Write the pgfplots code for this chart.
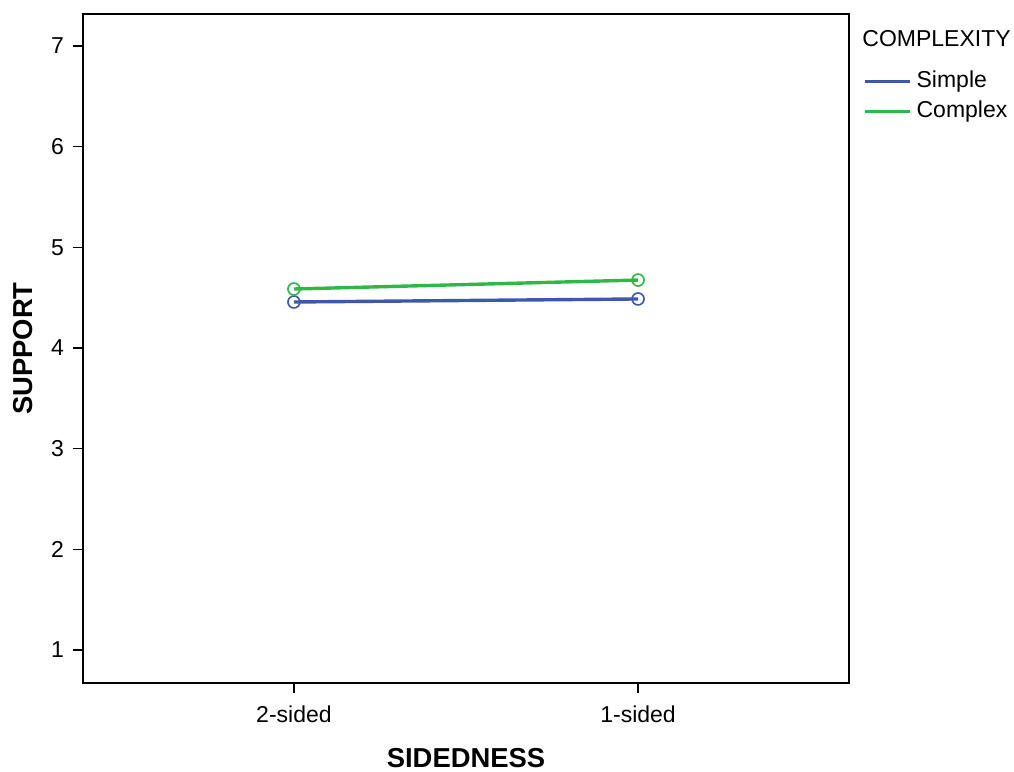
\documentclass[border=0pt]{standalone}
\usepackage{pgfplots}
\pgfplotsset{compat=1.18}
\usepackage{fontspec}
\setmainfont{Liberation Sans}
\definecolor{sblue}{HTML}{3E58AC}
\definecolor{sgreen}{HTML}{2EB848}
\begin{document}
\begin{tikzpicture}
\begin{axis}[
  scale only axis, width=383pt, height=334.5pt,
  xmin=-0.613, xmax=1.613, ymin=0.672, ymax=7.318,
  xtick={0,1}, xticklabels={2-sided,1-sided},
  ytick={1,2,3,4,5,6,7},
  tick align=outside, tick pos=left, major tick length=5pt,
  axis line style={line width=0.8pt},
  tick style={line width=0.8pt, black},
  ticklabel style={font=\fontsize{11.5}{13}\selectfont},
  xticklabel style={yshift=-3pt},
  yticklabel style={xshift=-1pt},
  /pgf/number format/assume math mode=true,
  legend style={at={(rel axis cs:1,1)}, anchor=north west, xshift=7pt, yshift=-28pt,
    draw=none, fill=none, inner sep=0pt, row sep=4pt,
    font=\fontsize{11.5}{13}\selectfont,
    nodes={inner sep=0pt, inner xsep=2.5pt, text height=8.5pt, text depth=2.5pt}},
  legend cell align=left,
  legend image code/.code={\draw[#1, line width=1.6pt] (0pt,0pt) -- (22.5pt,0pt);},
]
\addplot[sblue, line width=1.7pt, mark=o, mark size=3pt, mark options={line width=0.8pt, fill=none}]
  coordinates {(0,4.457) (1,4.487)};
\addlegendentry{Simple}
\addplot[sgreen, line width=1.7pt, mark=o, mark size=3pt, mark options={line width=0.8pt, fill=none}]
  coordinates {(0,4.586) (1,4.675)};
\addlegendentry{Complex}
\end{axis}
\node[rotate=90, font=\fontsize{13.7}{15}\selectfont\bfseries] at ([xshift=-30pt]current axis.west) {SUPPORT};
\node[font=\fontsize{13.7}{15}\selectfont\bfseries] at ([yshift=-37.5pt]current axis.south) {SIDEDNESS};
\node[anchor=west, inner sep=0pt, font=\fontsize{11.5}{13}\selectfont] at ([xshift=6.5pt, yshift=-12.5pt]current axis.north east) {COMPLEXITY};
\pgfresetboundingbox
\path[use as bounding box] ([xshift=-41.5pt, yshift=-44pt]current axis.south west) rectangle ([xshift=82.5pt, yshift=7pt]current axis.north east);
\end{tikzpicture}
\end{document}
